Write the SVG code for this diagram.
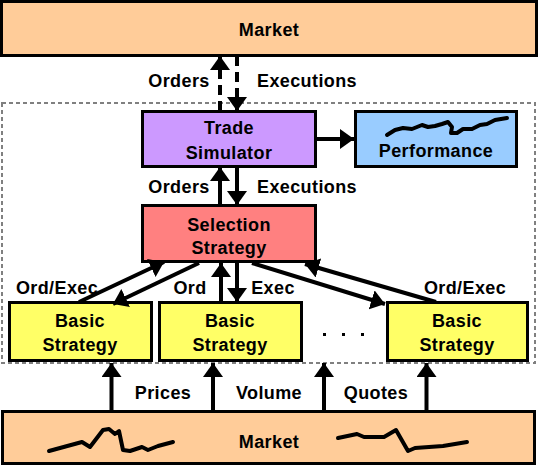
<svg xmlns="http://www.w3.org/2000/svg" width="538" height="466" viewBox="0 0 538 466">
<style>
.box{stroke:#000;stroke-width:3}
.t{font-family:"Liberation Sans",Arial,sans-serif;font-weight:bold;font-size:18px;fill:#000;text-anchor:middle;letter-spacing:0.4px}
.c{stroke:#000;stroke-width:4;fill:none}
.d{stroke-dasharray:10 6}
.sq{stroke:#000;stroke-width:4;fill:none;stroke-linejoin:round;stroke-linecap:round}
</style>
<defs>
<marker id="ah" viewBox="0 0 14 20" refX="14" refY="10" markerWidth="14" markerHeight="20" markerUnits="userSpaceOnUse" orient="auto">
<path d="M0,0 L14,10 L0,20 z" fill="#000"/>
</marker>
</defs>
<rect x="2" y="103" width="533" height="260" fill="none" stroke="#808080" stroke-width="2" stroke-dasharray="4 3"/>
<g id="market-top">
<rect class="box" x="1.5" y="1.5" width="535" height="54" fill="#FFCC99"/>
<text class="t" x="269" y="36">Market</text>
</g>
<g id="trade-simulator">
<rect class="box" x="142.5" y="111.5" width="173" height="55" fill="#CC99FF"/>
<text class="t" x="229" y="134">Trade</text>
<text class="t" x="229" y="159">Simulator</text>
</g>
<g id="performance">
<rect class="box" x="355.5" y="111.5" width="161" height="55" fill="#99CCFF"/>
<path class="sq" stroke-width="5" d="M387,135 L395,130 L403,128 L412,129 L422,125 L428,127 L435,126 L442,124 L448,122 L452,127 L451,133 L457,133 L463,129 L472,129 L480,125 L487,124 L495,120 L507,118"/>
<text class="t" x="436" y="157">Performance</text>
</g>
<g id="selection-strategy">
<rect class="box" x="142.5" y="205.5" width="173" height="56" fill="#FF8080"/>
<text class="t" x="229" y="231">Selection</text>
<text class="t" x="229" y="254">Strategy</text>
</g>
<g id="basic-1">
<rect class="box" x="9.5" y="302.5" width="142" height="58" fill="#FFFF66"/>
<text class="t" x="80" y="327">Basic</text>
<text class="t" x="80" y="351">Strategy</text>
</g>
<g id="basic-2">
<rect class="box" x="159.5" y="302.5" width="142" height="58" fill="#FFFF66"/>
<text class="t" x="230" y="327">Basic</text>
<text class="t" x="230" y="351">Strategy</text>
</g>
<g id="basic-3">
<rect class="box" x="387.5" y="302.5" width="140" height="58" fill="#FFFF66"/>
<text class="t" x="457" y="327">Basic</text>
<text class="t" x="457" y="351">Strategy</text>
</g>
<g id="dots" fill="#000">
<rect x="323" y="333" width="3" height="3"/>
<rect x="342" y="333" width="3" height="3"/>
<rect x="361" y="333" width="3" height="3"/>
</g>
<g id="market-bottom">
<rect class="box" x="2.5" y="411.5" width="532" height="52" fill="#FFCC99"/>
<path class="sq" d="M49,451 L82,442 L90,447 L103,430 L109,429 L115,434 L119,431 L123,450 L130,451 L142,447 L148,450 L158,446 L173,442"/>
<path class="sq" d="M338,438 L357,434 L364,437 L384,437 L396,430 L408,451 L415,448 L443,446 L467,442"/>
<text class="t" x="269" y="448">Market</text>
</g>
<g id="connectors">
<line class="c d" x1="220" y1="111" x2="220" y2="56" marker-end="url(#ah)"/>
<line class="c d" x1="237" y1="56" x2="237" y2="111" marker-end="url(#ah)"/>
<line class="c" x1="317" y1="139" x2="354" y2="139" marker-end="url(#ah)"/>
<line class="c" x1="220" y1="205" x2="220" y2="167" marker-end="url(#ah)"/>
<line class="c" x1="237" y1="167" x2="237" y2="205" marker-end="url(#ah)"/>
<line class="c" x1="79" y1="302" x2="164" y2="262" marker-end="url(#ah)"/>
<line class="c" x1="199" y1="263" x2="113" y2="304" marker-end="url(#ah)"/>
<line class="c" x1="221" y1="302" x2="221" y2="263" marker-end="url(#ah)"/>
<line class="c" x1="237" y1="263" x2="237" y2="302" marker-end="url(#ah)"/>
<line class="c" x1="252" y1="263" x2="385" y2="304" marker-end="url(#ah)"/>
<line class="c" x1="436" y1="302" x2="305" y2="264" marker-end="url(#ah)"/>
<line class="c" x1="111.5" y1="411" x2="111.5" y2="363" marker-end="url(#ah)"/>
<line class="c" x1="213" y1="411" x2="213" y2="363" marker-end="url(#ah)"/>
<line class="c" x1="324" y1="411" x2="324" y2="363" marker-end="url(#ah)"/>
<line class="c" x1="426.5" y1="411" x2="426.5" y2="363" marker-end="url(#ah)"/>
</g>
<g id="labels">
<text class="t" x="179" y="87">Orders</text>
<text class="t" x="307" y="87">Executions</text>
<text class="t" x="179" y="193">Orders</text>
<text class="t" x="307" y="193">Executions</text>
<text class="t" x="57" y="294">Ord/Exec</text>
<text class="t" x="190" y="294">Ord</text>
<text class="t" x="273" y="294">Exec</text>
<text class="t" x="465" y="294">Ord/Exec</text>
<text class="t" x="163" y="399">Prices</text>
<text class="t" x="269" y="399">Volume</text>
<text class="t" x="376" y="399">Quotes</text>
</g>
</svg>
